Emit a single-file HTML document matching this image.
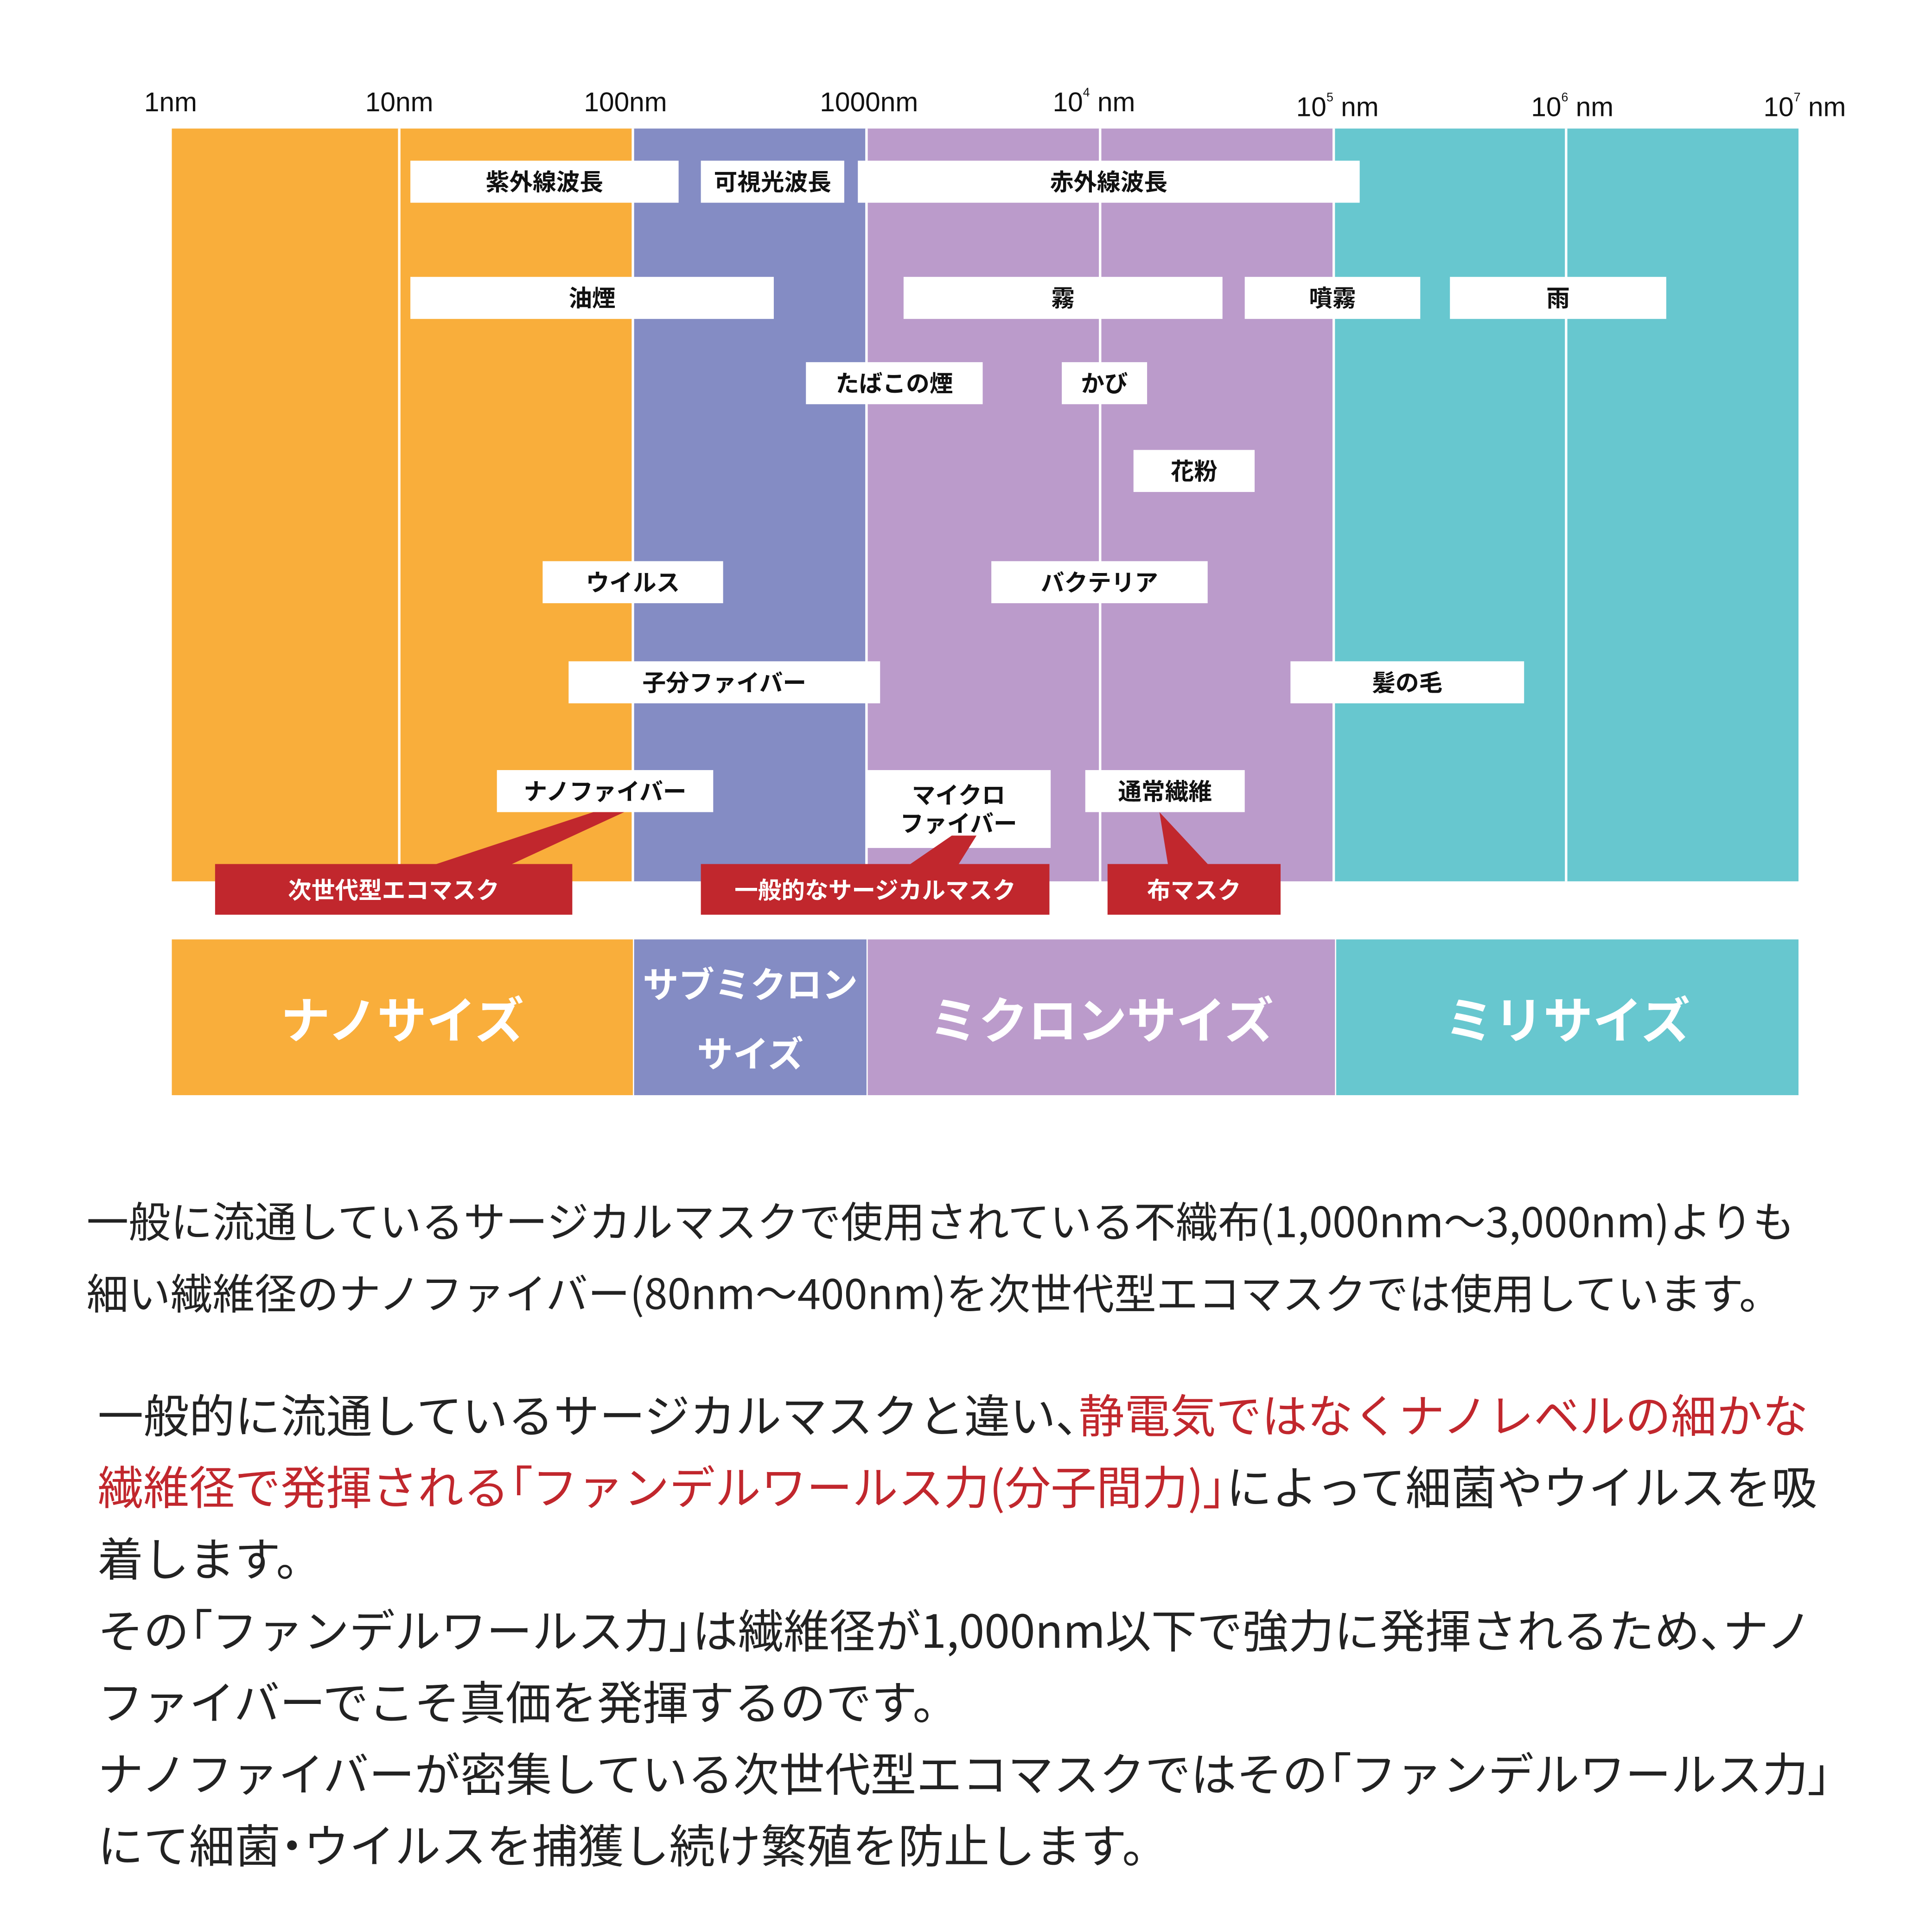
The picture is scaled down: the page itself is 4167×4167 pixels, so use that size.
<!DOCTYPE html>
<html><head><meta charset="utf-8"><style>
html,body{margin:0;padding:0;background:#fff;}
body{width:4167px;height:4167px;overflow:hidden;position:relative;}
#s{position:absolute;left:0;top:0;width:1563px;height:1563px;transform:scale(2.66603);transform-origin:0 0;font-family:"Liberation Sans","Noto Sans CJK JP",sans-serif;}
.a{position:absolute;}
.ax{font-size:22px;color:#111;top:70px;transform:translateX(-50%);white-space:nowrap;}
.ax sup{font-size:10px;vertical-align:12px;}
.b{position:absolute;background:#fff;font-weight:bold;font-size:19px;color:#111;display:flex;align-items:center;justify-content:center;height:34px;line-height:1.2;text-align:center;font-family:"Noto Sans CJK JP",sans-serif;}
.r{position:absolute;background:#c1272d;color:#fff;font-weight:bold;font-size:19px;display:flex;align-items:center;justify-content:center;height:41px;top:699px;font-family:"Noto Sans CJK JP",sans-serif;}
.v{position:absolute;top:104px;height:609px;width:2px;background:#fff;}
.band{position:absolute;top:760px;height:126px;color:#fff;font-weight:bold;font-size:40px;display:flex;align-items:center;justify-content:center;text-align:center;font-family:"Noto Sans CJK JP",sans-serif;}
.p1{position:absolute;left:70px;font-size:34px;color:#222;white-space:nowrap;font-family:"Noto Sans CJK JP",sans-serif;}
.p2{position:absolute;left:79px;font-size:37px;color:#222;white-space:nowrap;font-family:"Noto Sans CJK JP",sans-serif;}
.red{color:#c1272d;}
.k{font-feature-settings:"palt";}
</style></head><body><div id="s">
<div class="a ax" style="left:138px">1nm</div>
<div class="a ax" style="left:323px">10nm</div>
<div class="a ax" style="left:506px">100nm</div>
<div class="a ax" style="left:703px">1000nm</div>
<div class="a ax" style="left:885px">10<sup>4</sup> nm</div>
<div class="a ax" style="left:1082px;top:74px">10<sup>5</sup> nm</div>
<div class="a ax" style="left:1272px;top:74px">10<sup>6</sup> nm</div>
<div class="a ax" style="left:1460px;top:74px">10<sup>7</sup> nm</div>

<div class="a" style="left:139px;top:104px;width:373px;height:609px;background:#f9ae3b"></div>
<div class="a" style="left:512px;top:104px;width:189px;height:609px;background:#848cc4"></div>
<div class="a" style="left:701px;top:104px;width:378px;height:609px;background:#bb9bcb"></div>
<div class="a" style="left:1079px;top:104px;width:376px;height:609px;background:#67c7cf"></div>
<div class="v" style="left:322px"></div>
<div class="v" style="left:511px"></div>
<div class="v" style="left:700px"></div>
<div class="v" style="left:889px"></div>
<div class="v" style="left:1078px"></div>
<div class="v" style="left:1266px"></div>

<div class="b" style="left:332px;top:130px;width:217px">紫外線波長</div>
<div class="b" style="left:567px;top:130px;width:116px">可視光波長</div>
<div class="b" style="left:694px;top:130px;width:406px">赤外線波長</div>
<div class="b" style="left:332px;top:224px;width:294px">油煙</div>
<div class="b" style="left:731px;top:224px;width:258px">霧</div>
<div class="b" style="left:1007px;top:224px;width:142px">噴霧</div>
<div class="b" style="left:1173px;top:224px;width:175px">雨</div>
<div class="b" style="left:652px;top:293px;width:143px">たばこの煙</div>
<div class="b" style="left:859px;top:293px;width:69px">かび</div>
<div class="b" style="left:917px;top:364px;width:98px">花粉</div>
<div class="b" style="left:439px;top:454px;width:146px">ウイルス</div>
<div class="b" style="left:802px;top:454px;width:175px">バクテリア</div>
<div class="b" style="left:460px;top:535px;width:252px">子分ファイバー</div>
<div class="b" style="left:1044px;top:535px;width:189px">髪の毛</div>
<div class="b" style="left:402px;top:623px;width:175px">ナノファイバー</div>
<div class="b" style="left:701px;top:623px;width:149px;height:63px">マイクロ<br>ファイバー</div>
<div class="b" style="left:878px;top:623px;width:129px">通常繊維</div>

<svg class="a" style="left:0;top:0" width="1563" height="760">
<polygon points="350,700 412,700 505,657 480,657" fill="#c1272d"/>
<polygon points="735,700 775,700 790,676 770,676" fill="#c1272d"/>
<polygon points="938,657 945,700 978,700" fill="#c1272d"/>
</svg>
<div class="r" style="left:174px;width:289px">次世代型エコマスク</div>
<div class="r" style="left:567px;width:282px">一般的なサージカルマスク</div>
<div class="r" style="left:896px;width:140px">布マスク</div>

<div class="band" style="left:139px;width:373px;background:#f9ae3b">ナノサイズ</div>
<div class="band" style="left:513px;width:188px;background:#848cc4;font-size:29px;line-height:56px">サブミクロン<br>サイズ</div>
<div class="band" style="left:702px;width:378px;background:#bb9bcb">ミクロンサイズ</div>
<div class="band" style="left:1081px;width:374px;background:#67c7cf">ミリサイズ</div>

<div class="p1" style="top:962px">一般に流通しているサージカルマスクで使用されている不織布(1,000nm～3,000nm)よりも</div>
<div class="p1" style="top:1020px">細い繊維径のナノファイバー(80nm～400nm)を次世代型エコマスクでは使用しています。</div>

<div class="p2" style="top:1116px">一般的に流通しているサージカルマスクと違い<span class="k">、</span><span class="red">静電気ではなくナノレベルの細かな</span></div>
<div class="p2" style="top:1174px"><span class="red">繊維径で発揮される<span class="k">「</span>ファンデルワールス力(分子間力)<span class="k">」</span></span>によって細菌やウイルスを吸</div>
<div class="p2" style="top:1232px">着します。</div>
<div class="p2" style="top:1290px">その<span class="k">「</span>ファンデルワールス力<span class="k">」</span>は繊維径が1,000nm以下で強力に発揮されるため<span class="k">、</span>ナノ</div>
<div class="p2" style="top:1348px">ファイバーでこそ真価を発揮するのです。</div>
<div class="p2" style="top:1406px">ナノファイバーが密集している次世代型エコマスクではその<span class="k">「</span>ファンデルワールス力<span class="k">」</span></div>
<div class="p2" style="top:1464px">にて細菌<span class="k">・</span>ウイルスを捕獲し続け繁殖を防止します。</div>
</div></body></html>
